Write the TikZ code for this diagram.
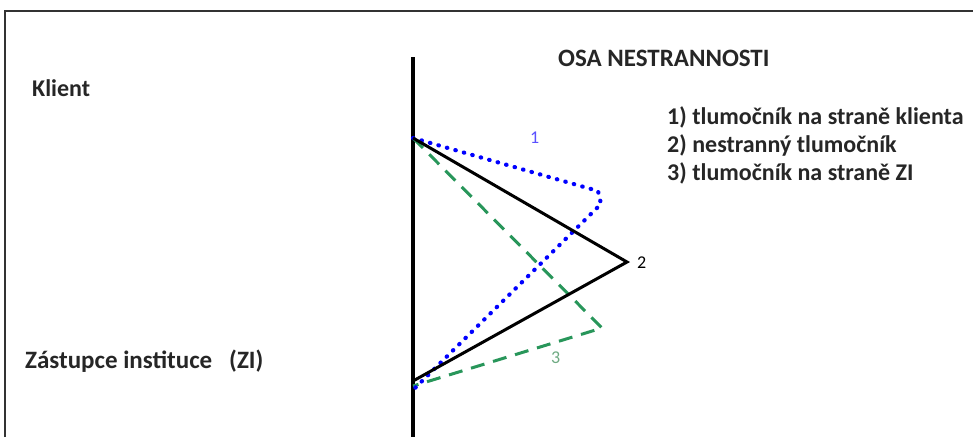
\documentclass[tikz,border=0pt]{standalone}
\usepackage{fontspec}
\setmainfont{Carlito}
\begin{document}
\begin{tikzpicture}[x=1pt,y=-1pt,
  lbl/.style={inner sep=0pt,anchor=base west,font=\fontsize{24}{28}\selectfont\bfseries,text=black!85},
  num/.style={inner sep=0pt,anchor=base west,font=\fontsize{18}{21}\selectfont},
  frameline/.style={line width=1.6pt,draw=black!80},
  axis/.style={line width=3.2pt,black},
  solidtri/.style={line width=3pt,black,line join=miter},
  dottri/.style={line width=4.2pt,blue,dash pattern=on 0.5pt off 8.3pt,line cap=round},
  dashtri/.style={line width=3pt,draw={rgb,255:red,40;green,150;blue,90},dash pattern=on 14pt off 9pt}]
\useasboundingbox (0,0) rectangle (973,437);
\fill[white] (0,0) rectangle (973,437);
% frame
\coordinate (fbl) at (5,437);
\coordinate (ftl) at (5,11);
\coordinate (ftr) at (973,11);
\draw[frameline] (fbl) -- (ftl) -- (ftr);
% axis
\coordinate (axtop) at (413,57);
\coordinate (axbot) at (413,437);
\draw[axis] (axtop) -- (axbot);
% vertices
\coordinate (A) at (413,138);
\coordinate (Bk) at (413,381);
\coordinate (P2) at (627,262);
\coordinate (Q1) at (598,191);
\coordinate (Q1b) at (601,204);
\coordinate (Bb) at (413,390);
\coordinate (Q3) at (602,328);
\coordinate (Bg) at (413,386);
\draw[dashtri] (A) -- (Q3) -- (Bg);
\draw[dottri] (A) -- (Q1) -- (Q1b) -- (Bb);
\draw[solidtri] (A) -- (P2) -- (Bk);
% labels
\node[num,text={rgb,255:red,90;green,80;blue,255}] (n1) at (530,143) {1};
\node[num,text=black] (n2) at (637,268) {2};
\node[num,text={rgb,255:red,110;green,170;blue,130}] (n3) at (551,363) {3};
\node[lbl,font=\fontsize{25}{28}\selectfont\bfseries] (osa) at (558,66) {OSA NESTRANNOSTI};
\node[lbl] (kl) at (32,96) {Klient};
\node[lbl,font=\fontsize{25}{28}\selectfont\bfseries] (zi) at (25,368) {Zástupce instituce\ \ \ (ZI)};
\node[lbl] (l1) at (667,124) {1) tlumočník na straně klienta};
\node[lbl] (l2) at (667,152) {2) nestranný tlumočník};
\node[lbl] (l3) at (667,180) {3) tlumočník na straně ZI};
\end{tikzpicture}
\end{document}
